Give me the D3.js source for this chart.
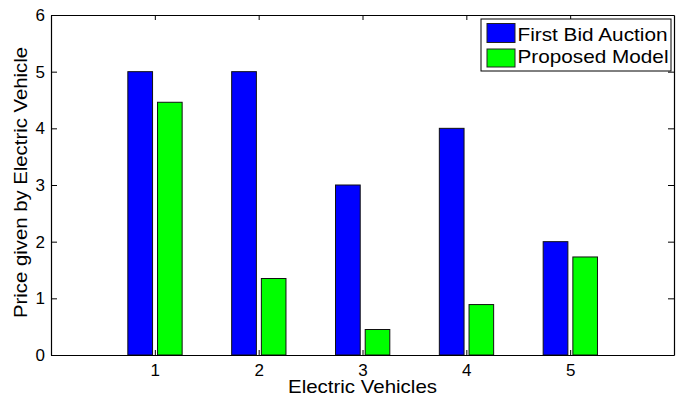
<!DOCTYPE html>
<html>
<head>
<meta charset="utf-8">
<script src="https://cdn.jsdelivr.net/npm/d3@7"></script>
<style>
  html, body { margin: 0; padding: 0; background: #fff; }
  svg { display: block; font-family: "Liberation Sans", Arial, Helvetica, sans-serif; }
</style>
</head>
<body>
<svg id="chart" width="679" height="400"></svg>
<script>
const categories = [1, 2, 3, 4, 5];
const firstBid = [5, 5, 3, 4, 2];
const proposed = [4.46, 1.35, 0.45, 0.89, 1.73];
const seriesNames = ["First Bid Auction", "Proposed Model"];
const seriesColors = ["#0000ff", "#00ff00"];
const yTickValues = [0, 1, 2, 3, 4, 5, 6];
const xLabel = "Electric Vehicles";
const yLabel = "Price given by Electric Vehicle";

const svg = d3.select("#chart");
const m = { left: 51, right: 674, top: 15, bottom: 355 };

const x = d3.scaleLinear().domain([0, 6]).range([m.left, m.right]);
const y = d3.scaleLinear().domain([0, 6]).range([m.bottom, m.top]);
const fmt = d3.format("d");

// bars
const series = [firstBid, proposed];
const offsets = [[-0.26, -0.022], [0.026, 0.263]];
series.forEach((vals, si) => {
  svg.append("g").selectAll("rect")
    .data(categories.map((c, i) => ({ c, v: vals[i] })))
    .join("rect")
    .attr("x", d => x(d.c + offsets[si][0]))
    .attr("width", d => x(d.c + offsets[si][1]) - x(d.c + offsets[si][0]))
    .attr("y", d => y(d.v))
    .attr("height", d => y(0) - y(d.v))
    .attr("fill", seriesColors[si])
    .attr("stroke", "#111")
    .attr("stroke-width", 1);
});

// axes
const tickFont = 17;
function styleAxis(g) {
  g.select(".domain").attr("stroke", "#000").attr("stroke-width", 1.2);
  g.selectAll(".tick line").attr("stroke", "#000").attr("stroke-width", 1);
  g.selectAll(".tick text").attr("fill", "#000").style("font-size", tickFont + "px")
    .style("font-family", '"Liberation Sans", Arial, sans-serif');
}

svg.append("g").attr("transform", `translate(0,${m.bottom})`)
  .call(d3.axisBottom(x).tickValues(categories).tickFormat(fmt).tickSize(-5).tickSizeOuter(0).tickPadding(8.6))
  .call(styleAxis);
svg.append("g").attr("transform", `translate(0,${m.top})`)
  .call(d3.axisTop(x).tickValues(categories).tickSize(-5).tickSizeOuter(0).tickFormat(""))
  .call(styleAxis);
svg.append("g").attr("transform", `translate(${m.left},0)`)
  .call(d3.axisLeft(y).tickValues(yTickValues).tickFormat(fmt).tickSize(-6).tickSizeOuter(0).tickPadding(6))
  .call(styleAxis);
svg.append("g").attr("transform", `translate(${m.right},0)`)
  .call(d3.axisRight(y).tickValues(yTickValues).tickSize(-6).tickSizeOuter(0).tickFormat(""))
  .call(styleAxis);

// axis labels
svg.append("text")
  .attr("x", (m.left + m.right) / 2).attr("y", 393.3)
  .attr("text-anchor", "middle")
  .style("font-size", "18.5px")
  .attr("textLength", 149).attr("lengthAdjust", "spacingAndGlyphs")
  .text(xLabel);

svg.append("text")
  .attr("transform", "translate(26.7,182.5) rotate(-90)")
  .attr("text-anchor", "middle")
  .style("font-size", "18px")
  .attr("textLength", 271).attr("lengthAdjust", "spacingAndGlyphs")
  .text(yLabel);

// legend
const lg = svg.append("g");
lg.append("rect").attr("x", 481).attr("y", 19).attr("width", 190).attr("height", 52)
  .attr("fill", "#fff").attr("stroke", "#000").attr("stroke-width", 1);
const legendRows = [{ sy: 23.5, h: 19, base: 40.7, w: 150 }, { sy: 49, h: 18, base: 63.3, w: 151 }];
seriesNames.forEach((name, i) => {
  const r = legendRows[i];
  lg.append("rect").attr("x", 487).attr("y", r.sy).attr("width", 28).attr("height", r.h)
    .attr("fill", seriesColors[i]).attr("stroke", "#222").attr("stroke-width", 1);
  lg.append("text").attr("x", 517.5).attr("y", r.base)
    .style("font-size", "19px")
    .attr("textLength", r.w).attr("lengthAdjust", "spacingAndGlyphs")
    .text(name);
});
</script>
</body>
</html>
